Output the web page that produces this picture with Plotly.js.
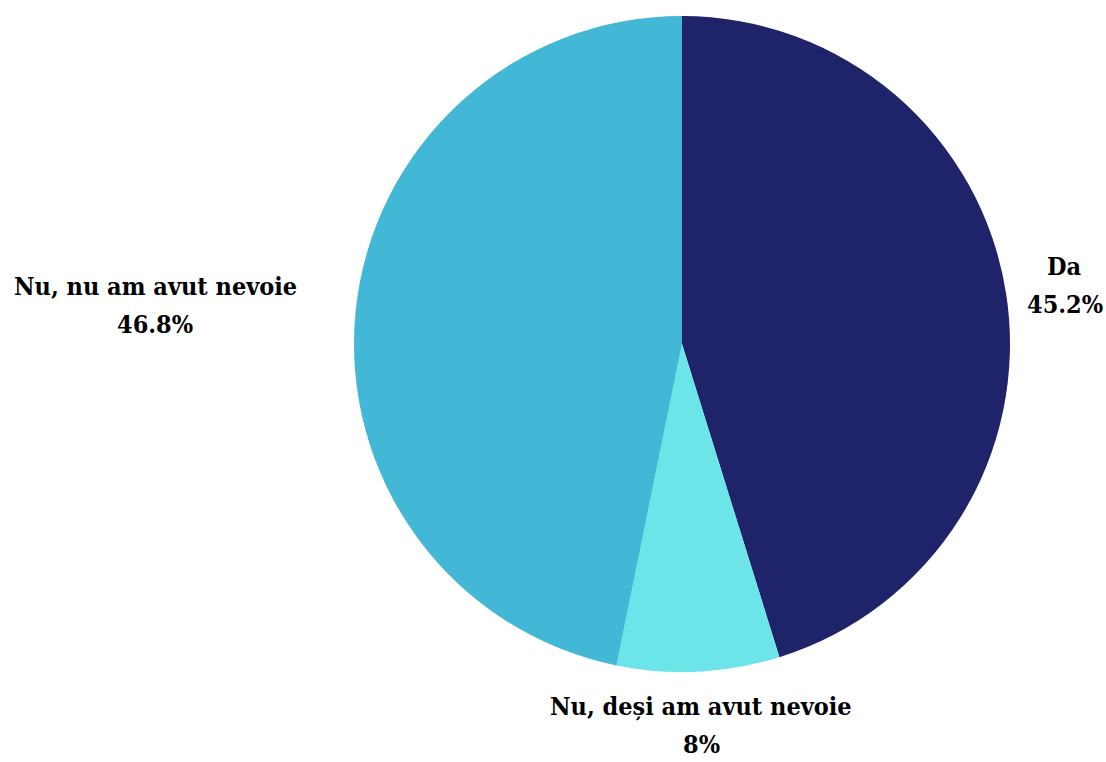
<!DOCTYPE html>
<html>
<head>
<meta charset="utf-8">
<script src="https://cdn.plot.ly/plotly-3.0.1.min.js"></script>
<style>html,body{margin:0;padding:0;background:#fff;}</style>
</head>
<body>
<div id="chart" style="width:1106px;height:762px;"></div>
<script>
const labels = ["Da", "Nu, deși am avut nevoie", "Nu, nu am avut nevoie"];
const values = [45.2, 8, 46.8];
const colors = ["#1f2369", "#6be5e8", "#42b7d6"];

const W = 1106, H = 762;
const margin = {l: 0, r: 0, t: 16, b: 90};
const domX = [354 / W, 1010 / W];
const plotH = H - margin.t - margin.b;

const trace = {
  type: "pie",
  labels: labels,
  values: values,
  sort: false,
  direction: "clockwise",
  rotation: 0,
  marker: {colors: colors, line: {width: 0}},
  textinfo: "none",
  textposition: "none",
  domain: {x: domX, y: [0, 1]},
  hoverinfo: "label+percent",
  showlegend: false
};

const fontFamily = "DejaVu Serif Condensed";
const fontSize = 25;
const font = {family: fontFamily + ", DejaVu Serif, serif", size: fontSize, color: "#000000", weight: "bold"};
const ctx = document.createElement("canvas").getContext("2d");
ctx.font = "bold " + fontSize + "px '" + fontFamily + "'";
const textW = t => ctx.measureText(t).width;

// label positions derived from the slice mid-angles
const total = values.reduce((a, b) => a + b, 0);
const cxPx = (domX[0] + domX[1]) / 2 * W;
const cyPx = margin.t + plotH / 2;
const rPx = Math.min((domX[1] - domX[0]) * W, plotH) / 2;
const labelR = rPx * 1.18;
const lineGap = 19;
const lineBox = fontSize * 1.3;
const annotations = [];
let cum = 0;
values.forEach((v, i) => {
  const mid = (cum + v / 2) / total * 2 * Math.PI;
  cum += v;
  const s = Math.sin(mid), c = Math.cos(mid);
  const pct = (Math.round(v / total * 1000) / 10) + "%";
  const blockW = Math.max(textW(labels[i]), textW(pct));
  let px = cxPx + labelR * s;
  let py = cyPx - labelR * c;
  if (s < -0.1) px -= blockW / 2;           // block ends at the anchor on the left side
  px = Math.min(px, W - 2 - blockW / 2);    // keep inside the page
  px = Math.max(px, 2 + blockW / 2);
  py = Math.min(py, H - 1 - lineGap - lineBox / 2);
  [[labels[i], py - lineGap], [pct, py + lineGap]].forEach(([t, yy]) => {
    annotations.push({
      xref: "paper", yref: "paper",
      x: px / W, y: (H - margin.b - yy) / plotH,
      xanchor: "center", yanchor: "middle",
      text: t, showarrow: false, font: font, borderpad: 0
    });
  });
});

const layout = {
  width: W,
  height: H,
  margin: margin,
  paper_bgcolor: "#ffffff",
  plot_bgcolor: "#ffffff",
  showlegend: false,
  annotations: annotations
};

Plotly.newPlot("chart", [trace], layout, {displayModeBar: false, staticPlot: true});
</script>
</body>
</html>
